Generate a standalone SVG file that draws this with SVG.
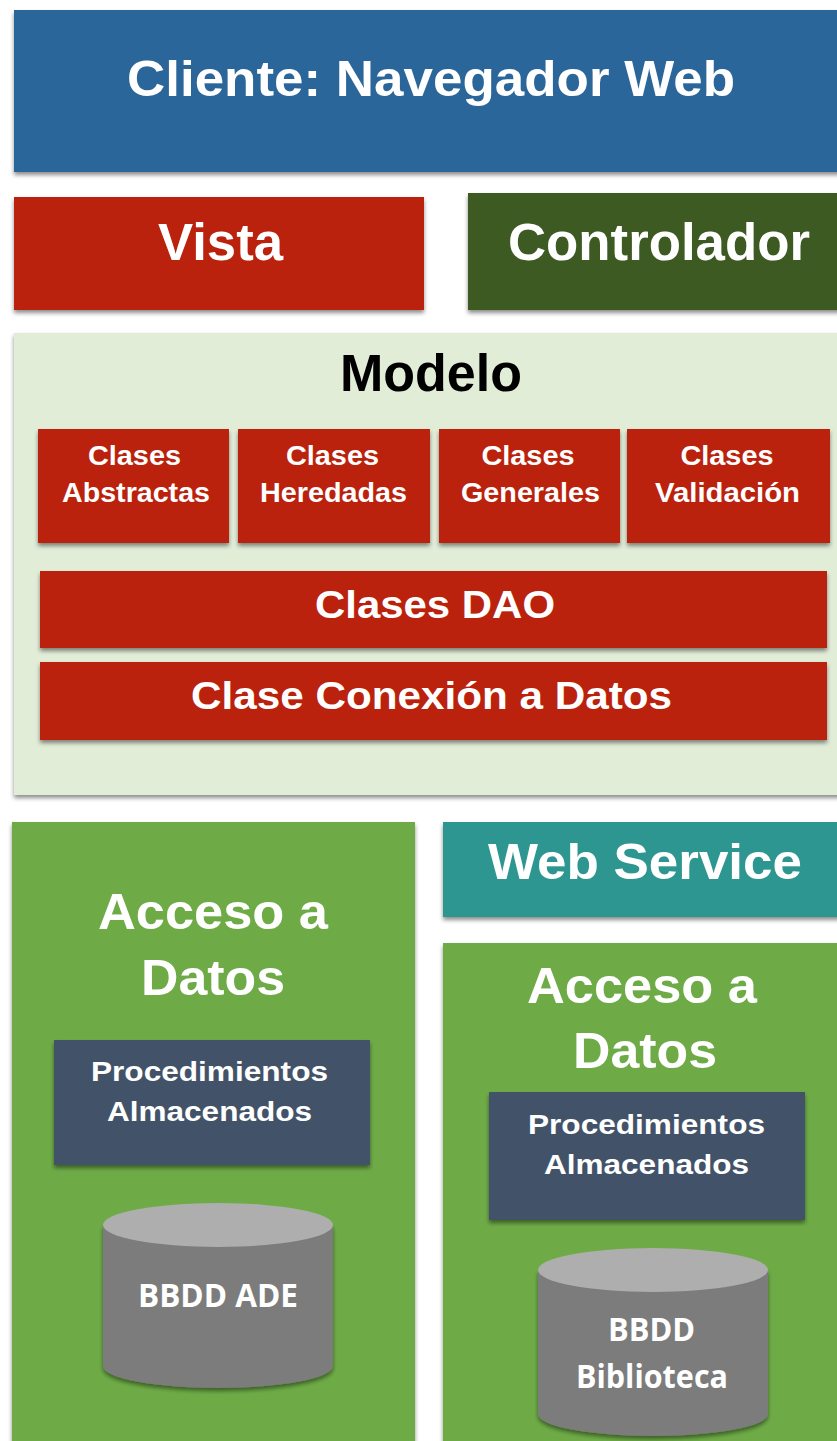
<svg xmlns="http://www.w3.org/2000/svg" width="837" height="1441" viewBox="0 0 837 1441">
<defs>
<filter id="sh" x="-5%" y="-5%" width="110%" height="120%">
<feDropShadow dx="0" dy="3" stdDeviation="2" flood-color="#000" flood-opacity="0.45"/>
</filter>
<style>
text{font-family:"Liberation Sans",Arial,sans-serif;font-weight:bold;fill:#fff;text-anchor:middle}
.blue{fill:#2A6699}
.red{fill:#BA230E}
.dgreen{fill:#3C5A22}
.lgreen{fill:#E2EDD8}
.green{fill:#6EAB47}
.teal{fill:#2E9690}
.slate{fill:#435369}
.cylb{fill:#7B7B7B}
.cylt{fill:#AEAEAE}
.db{font-family:"Open Sans","Liberation Sans",sans-serif}
</style>
</defs>
<rect width="837" height="1441" fill="#fff"/>
<g id="cliente">
<rect class="blue" x="14" y="10" width="830" height="162" filter="url(#sh)"/>
<text x="431" y="96" font-size="50" textLength="608" lengthAdjust="spacingAndGlyphs">Cliente: Navegador Web</text>
</g>
<g id="vista">
<rect class="red" x="14" y="197" width="410" height="113" filter="url(#sh)"/>
<text x="220.5" y="260" font-size="51" textLength="125" lengthAdjust="spacingAndGlyphs">Vista</text>
</g>
<g id="controlador">
<rect class="dgreen" x="468" y="193" width="376" height="117" filter="url(#sh)"/>
<text x="659" y="260" font-size="51" textLength="302" lengthAdjust="spacingAndGlyphs">Controlador</text>
</g>
<g id="modelo">
<rect class="lgreen" x="14" y="333" width="830" height="462" filter="url(#sh)"/>
<text x="431" y="391" font-size="51" textLength="182" lengthAdjust="spacingAndGlyphs" style="fill:#000">Modelo</text>
</g>
<g id="abstractas">
<rect class="red" x="38" y="429" width="191" height="114" filter="url(#sh)"/>
<text x="134.5" y="465" font-size="27" textLength="93" lengthAdjust="spacingAndGlyphs">Clases</text>
<text x="136" y="502" font-size="27" textLength="148" lengthAdjust="spacingAndGlyphs">Abstractas</text>
</g>
<g id="heredadas">
<rect class="red" x="238" y="429" width="192" height="114" filter="url(#sh)"/>
<text x="332.5" y="465" font-size="27" textLength="93" lengthAdjust="spacingAndGlyphs">Clases</text>
<text x="333.5" y="502" font-size="27" textLength="147" lengthAdjust="spacingAndGlyphs">Heredadas</text>
</g>
<g id="generales">
<rect class="red" x="439" y="429" width="181" height="114" filter="url(#sh)"/>
<text x="528" y="465" font-size="27" textLength="93" lengthAdjust="spacingAndGlyphs">Clases</text>
<text x="530.5" y="502" font-size="27" textLength="139" lengthAdjust="spacingAndGlyphs">Generales</text>
</g>
<g id="validacion">
<rect class="red" x="627" y="429" width="203" height="114" filter="url(#sh)"/>
<text x="727" y="465" font-size="27" textLength="93" lengthAdjust="spacingAndGlyphs">Clases</text>
<text x="727.5" y="502" font-size="27" textLength="145" lengthAdjust="spacingAndGlyphs">Validación</text>
</g>
<g id="dao">
<rect class="red" x="40" y="571" width="787" height="77" filter="url(#sh)"/>
<text x="435" y="618" font-size="39" textLength="240" lengthAdjust="spacingAndGlyphs">Clases DAO</text>
</g>
<g id="conexion">
<rect class="red" x="40" y="662" width="787" height="78" filter="url(#sh)"/>
<text x="431.5" y="709" font-size="39" textLength="481" lengthAdjust="spacingAndGlyphs">Clase Conexión a Datos</text>
</g>
<g id="acceso1">
<rect class="green" x="12" y="822" width="403" height="630" filter="url(#sh)"/>
<text x="213" y="929" font-size="50" textLength="230" lengthAdjust="spacingAndGlyphs">Acceso a</text>
<text x="213" y="995" font-size="50" textLength="144" lengthAdjust="spacingAndGlyphs">Datos</text>
</g>
<g id="proc1">
<rect class="slate" x="54" y="1040" width="316" height="125" filter="url(#sh)"/>
<text x="209.5" y="1081" font-size="28" textLength="237" lengthAdjust="spacingAndGlyphs">Procedimientos</text>
<text x="209.5" y="1121" font-size="28" textLength="205" lengthAdjust="spacingAndGlyphs">Almacenados</text>
</g>
<g id="bbdd-ade">
<path class="cylb" d="M103 1225 V1366 A115 22 0 0 0 333 1366 V1225 Z" filter="url(#sh)"/>
<ellipse class="cylt" cx="218" cy="1225" rx="115" ry="22"/>
<text class="db" x="218" y="1307" font-size="32" textLength="160" lengthAdjust="spacingAndGlyphs">BBDD ADE</text>
</g>
<g id="webservice">
<rect class="teal" x="443" y="822" width="401" height="95" filter="url(#sh)"/>
<text x="645" y="879" font-size="50" textLength="314" lengthAdjust="spacingAndGlyphs">Web Service</text>
</g>
<g id="acceso2">
<rect class="green" x="443" y="943" width="401" height="510" filter="url(#sh)"/>
<text x="642" y="1003" font-size="50" textLength="230" lengthAdjust="spacingAndGlyphs">Acceso a</text>
<text x="645" y="1068" font-size="50" textLength="144" lengthAdjust="spacingAndGlyphs">Datos</text>
</g>
<g id="proc2">
<rect class="slate" x="489" y="1092" width="316" height="128" filter="url(#sh)"/>
<text x="646.5" y="1134" font-size="28" textLength="237" lengthAdjust="spacingAndGlyphs">Procedimientos</text>
<text x="646.5" y="1174" font-size="28" textLength="205" lengthAdjust="spacingAndGlyphs">Almacenados</text>
</g>
<g id="bbdd-biblioteca">
<path class="cylb" d="M538 1270 V1414 A115 22 0 0 0 768 1414 V1270 Z" filter="url(#sh)"/>
<ellipse class="cylt" cx="653" cy="1270" rx="115" ry="22"/>
<text class="db" x="651.5" y="1341" font-size="32" textLength="87" lengthAdjust="spacingAndGlyphs">BBDD</text>
<text class="db" x="652" y="1388" font-size="32" textLength="152" lengthAdjust="spacingAndGlyphs">Biblioteca</text>
</g>
<g id="connectors"/>
</svg>
